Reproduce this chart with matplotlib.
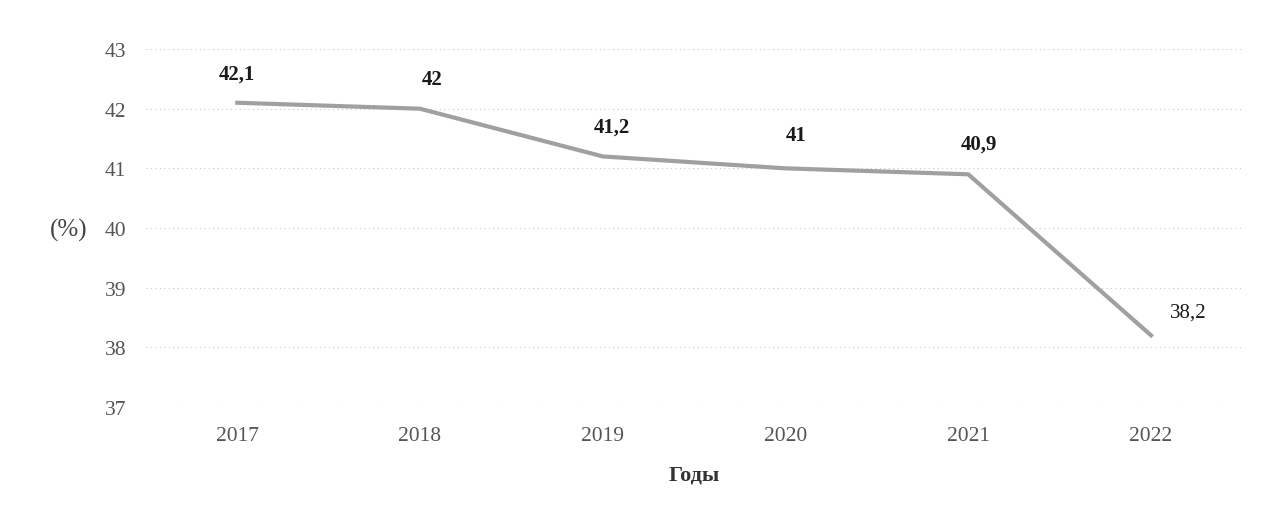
import numpy as np
import matplotlib.pyplot as plt

plt.rcParams['font.family'] = ['Liberation Serif', 'DejaVu Serif']

years = ['2017', '2018', '2019', '2020', '2021', '2022']
values = [42.1, 42.0, 41.2, 41.0, 40.9, 38.2]
labels = ['42,1', '42', '41,2', '41', '40,9', '38,2']
y_ticks = [37, 38, 39, 40, 41, 42, 43]

# label offsets in points, relative to each point
offsets = [(0, 21), (8.5, 21.5), (6.5, 21.5), (8, 24), (8, 22), (27, 17)]
weights = ['bold', 'bold', 'bold', 'bold', 'bold', 'normal']

fig = plt.figure(figsize=(12.69, 5.06), dpi=100)
ax = fig.add_axes([0.115, 0.194, 0.864, 0.707])

x = np.arange(len(years))
ax.plot(x, values, color='#a0a0a0', lw=3.0, solid_joinstyle='round', zorder=3)

for xi, v, lab, off, w in zip(x, values, labels, offsets, weights):
    ax.annotate(lab, (xi, v), xytext=off, textcoords='offset points',
                ha='center', va='center', fontsize=15, fontweight=w,
                color='#1a1a1a')

ax.set_xlim(-0.5, len(years) - 0.5)
ax.set_ylim(37, 43)
ax.set_xticks(x)
ax.set_xticklabels(years)
ax.set_yticks(y_ticks)
ax.tick_params(length=0, labelsize=15.5, labelcolor='#555555')
ax.tick_params(axis='x', pad=14)
ax.tick_params(axis='y', pad=14)
ax.grid(axis='y', color='#c8c8c8', lw=0.8, ls=(0, (1, 3)))
for s in ax.spines.values():
    s.set_visible(False)

ax.set_xlabel('Годы', fontsize=16, fontweight='bold', color='#333333', labelpad=14)
fig.text(69 / 1269, 1 - 230 / 506, '(%)', fontsize=18, color='#444444',
         ha='center', va='center')

fig.savefig('out.png', dpi=100)
